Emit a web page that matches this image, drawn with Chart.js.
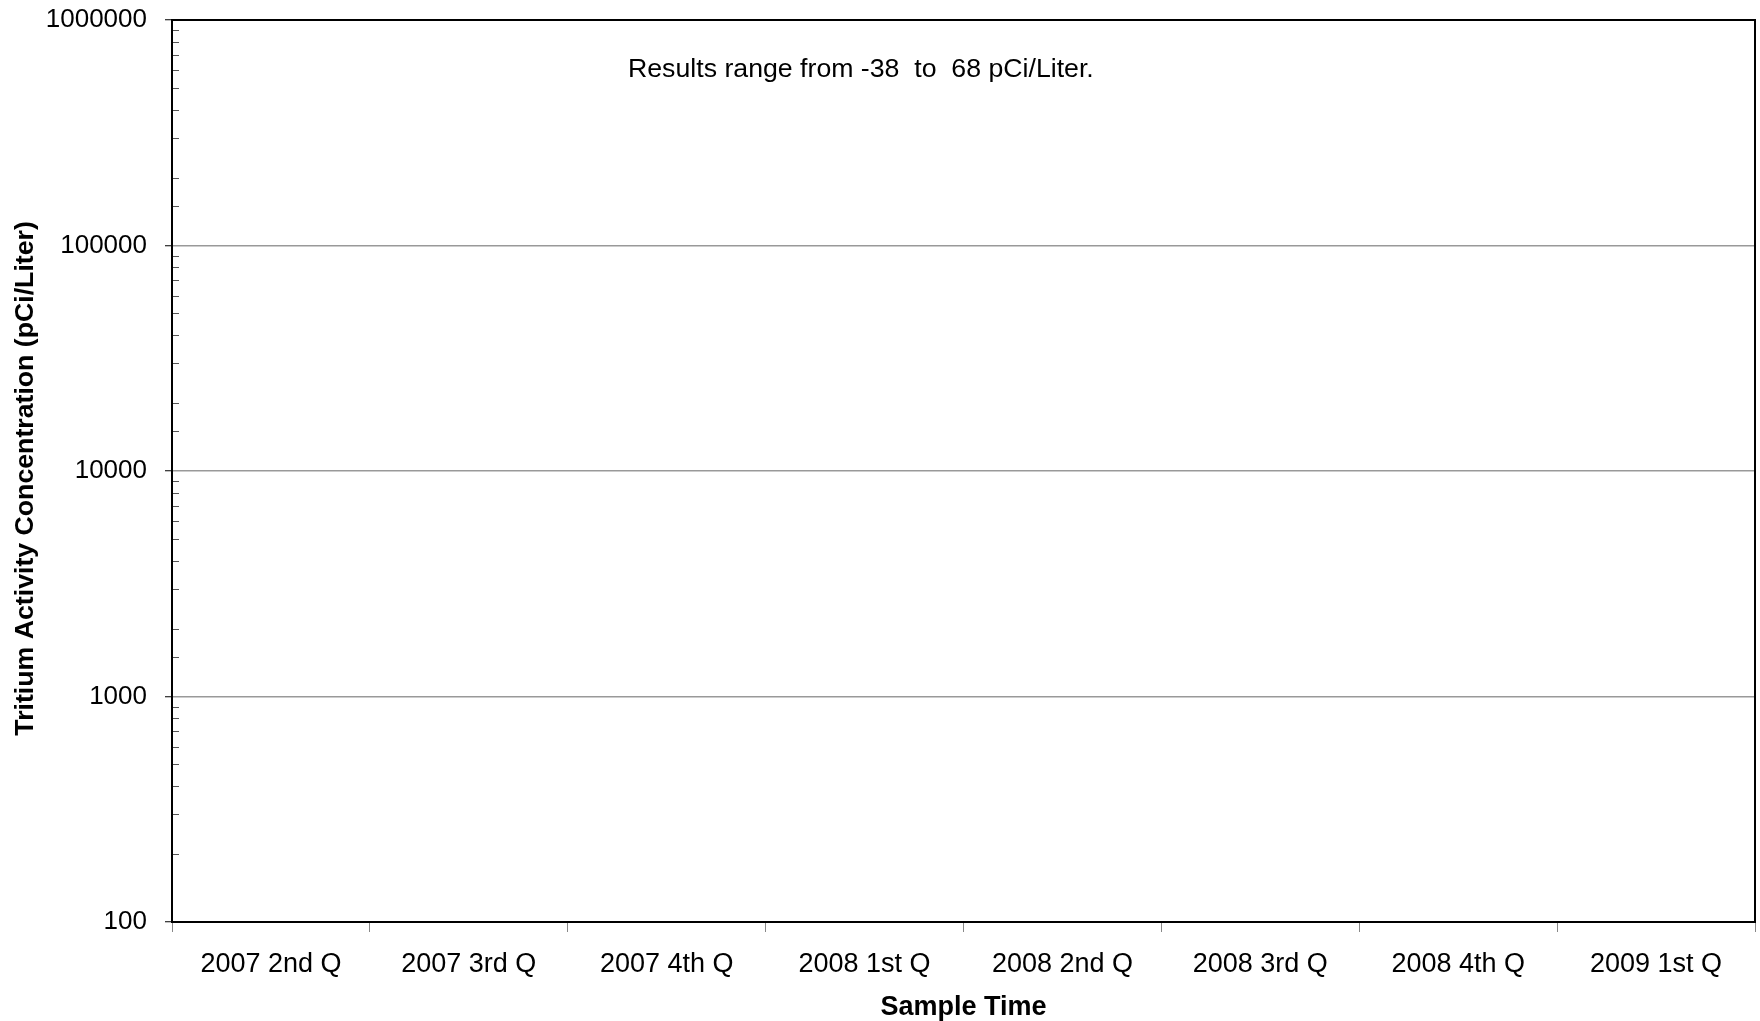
<!DOCTYPE html>
<html>
<head>
<meta charset="utf-8">
<script src="https://cdn.jsdelivr.net/npm/chart.js@4/dist/chart.umd.min.js"></script>
<style>
    html, body { margin: 0; padding: 0; background: #fff; }
    #wrap { width: 1760px; height: 1021px; }
</style>
</head>
<body>
<div id="wrap"><canvas id="graficoTritio"></canvas></div>
<script>
const categorias = ['2007 2nd Q', '2007 3rd Q', '2007 4th Q', '2008 1st Q', '2008 2nd Q', '2008 3rd Q', '2008 4th Q', '2009 1st Q'];
// todos os resultados (-38 a 68) ficam abaixo do eixo, nada aparece no grafico
const valoresTritio = [null, null, null, null, null, null, null, null];
const ticksY = [100, 1000, 10000, 100000, 1000000];
const nota = 'Results range from -38  to  68 pCi/Liter.';

const FONTE = "'Liberation Sans', Arial, sans-serif";

function ehMaior(v) {
    return ticksY.includes(v);
}

const molduraPlugin = {
    id: 'moldura',
    afterDraw(chart) {
        const ctx = chart.ctx;
        const a = chart.chartArea;
        const y = chart.scales.y;
        ctx.save();
        // marcas menores por dentro do eixo
        ctx.strokeStyle = '#555';
        ctx.lineWidth = 1;
        y.ticks.forEach(function (t) {
            if (!ehMaior(t.value)) {
                const py = Math.round(y.getPixelForValue(t.value)) + 0.5;
                ctx.beginPath();
                ctx.moveTo(a.left, py);
                ctx.lineTo(a.left + 7, py);
                ctx.stroke();
            }
        });
        ctx.strokeStyle = '#000';
        ctx.lineWidth = 2;
        ctx.strokeRect(a.left, a.top, a.right - a.left, a.bottom - a.top);
        ctx.fillStyle = '#000';
        ctx.font = '26.7px ' + FONTE;
        ctx.textAlign = 'left';
        ctx.textBaseline = 'middle';
        ctx.fillText(nota, a.left + 456, a.top + 50);
        ctx.restore();
    }
};

window.onload = function () {
    const ctx = document.getElementById('graficoTritio').getContext('2d');
    const grafico = new Chart(ctx, {
        type: 'line',
        data: {
            labels: categorias,
            datasets: [{
                label: 'Tritium',
                data: valoresTritio,
                borderColor: '#000',
                backgroundColor: '#000',
                pointRadius: 4
            }]
        },
        options: {
            responsive: true,
            maintainAspectRatio: false,
            animation: false,
            layout: {
                padding: { top: 20, right: 1, bottom: 0, left: 0 }
            },
            scales: {
                x: {
                    type: 'category',
                    offset: true,
                    grid: {
                        offset: true,
                        drawOnChartArea: false,
                        tickLength: 10,
                        tickColor: '#888',
                        lineWidth: 1
                    },
                    border: { display: true, color: '#000', width: 2 },
                    ticks: {
                        color: '#000',
                        padding: 16,
                        maxRotation: 0,
                        autoSkip: false,
                        font: { family: FONTE, size: 27 }
                    },
                    title: {
                        display: true,
                        text: 'Sample Time',
                        color: '#000',
                        padding: { top: 4, bottom: -3 },
                        font: { family: FONTE, size: 27, weight: 'bold' }
                    },
                    afterFit: function (scale) {
                        scale.height = 99;
                        scale.paddingLeft = 0;
                        scale.paddingRight = 0;
                    }
                },
                y: {
                    type: 'logarithmic',
                    min: 100,
                    max: 1000000,
                    grid: {
                        tickLength: 7,
                        lineWidth: 1.5,
                        color: function (c) {
                            const v = c.tick ? c.tick.value : 0;
                            return (ehMaior(v) && v !== 100 && v !== 1000000) ? '#999' : 'rgba(0,0,0,0)';
                        },
                        tickColor: function (c) {
                            const v = c.tick ? c.tick.value : 0;
                            return ehMaior(v) ? '#000' : 'rgba(0,0,0,0)';
                        },
                        tickWidth: 1
                    },
                    border: { display: true, color: '#000', width: 2 },
                    ticks: {
                        color: '#000',
                        padding: 18,
                        autoSkip: false,
                        font: { family: FONTE, size: 26 },
                        callback: function (value) {
                            return ehMaior(value) ? String(value) : '';
                        }
                    },
                    title: {
                        display: true,
                        // espacos no fim descem um pouco o titulo, como no original
                        text: 'Tritium Activity Concentration (pCi/Liter)  ',
                        color: '#000',
                        padding: { top: 10, bottom: 0 },
                        font: { family: FONTE, size: 26.7, weight: 'bold' }
                    },
                    afterFit: function (scale) {
                        scale.width = 172;
                        scale.paddingTop = 0;
                        scale.paddingBottom = 0;
                    }
                }
            },
            plugins: {
                legend: { display: false },
                title: { display: false },
                tooltip: { enabled: false }
            }
        },
        plugins: [molduraPlugin]
    });
};
</script>
</body>
</html>
